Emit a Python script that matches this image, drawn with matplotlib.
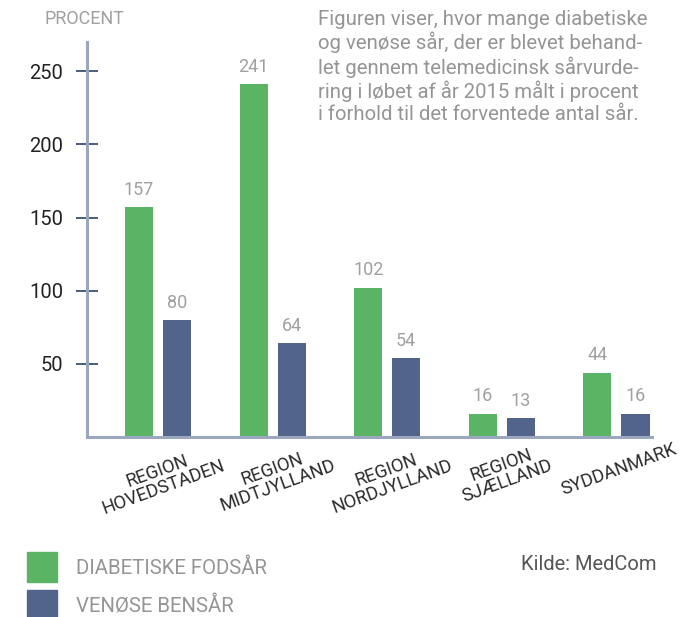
import matplotlib
matplotlib.use("Agg")
import matplotlib.pyplot as plt
import numpy as np
from matplotlib.patches import Rectangle

plt.rcParams['font.family'] = ['Roboto', 'DejaVu Sans']

regions = ["REGION\nHOVEDSTADEN", "REGION\nMIDTJYLLAND", "REGION\nNORDJYLLAND",
           "REGION\nSJÆLLAND", "SYDDANMARK"]
diabetiske = [157, 241, 102, 16, 44]
venose = [80, 64, 54, 13, 16]
series_names = ["DIABETISKE FODSÅR", "VENØSE BENSÅR"]
yticks = [50, 100, 150, 200, 250]

green = "#5ab464"
blue = "#52648c"
spine_c = "#9ba6bf"
tick_c = "#3d5170"
label_gray = "#a0a0a0"

fig = plt.figure(figsize=(6.95, 6.17), dpi=100)
ax = fig.add_axes([87/695, 1-437/617, (652-87)/695, (437-42)/617])

x = np.arange(len(regions))
w = 0.245
off = 0.166
b1 = ax.bar(x - off, diabetiske, w, color=green, zorder=2)
b2 = ax.bar(x + off, venose, w, color=blue, zorder=2)

for rects, vals in ((b1, diabetiske), (b2, venose)):
    for r, v in zip(rects, vals):
        ax.annotate(str(v), (r.get_x() + r.get_width()/2, r.get_height()),
                    xytext=(0, 6), textcoords="offset points", ha="center", va="bottom",
                    fontsize=13, color=label_gray)

ax.set_xlim(-0.62, 4.31)
ax.set_ylim(0, 270)
ax.set_yticks(yticks)
ax.set_yticklabels([str(t) for t in yticks], fontsize=14.5, color="#222222")
ax.tick_params(axis="y", direction="inout", length=16, width=1.3, color=tick_c, pad=9)
ax.set_xticks([])
for s in ("top", "right"):
    ax.spines[s].set_visible(False)
for s in ("left", "bottom"):
    ax.spines[s].set_color(spine_c)
    ax.spines[s].set_linewidth(2.2)

trans = ax.get_xaxis_transform()
for xi, lab in zip(x, regions):
    ax.text(xi + 0.02, -0.008, lab, transform=trans, ha="center", va="top", rotation=20,
            fontsize=13.2, color="#2a2a2a", linespacing=0.95)

fig.text(45/695, 1-19/617, "PROCENT", ha="left", va="center", fontsize=13,
         color=label_gray)

txt = ("Figuren viser, hvor mange diabetiske\nog venøse sår, der er blevet behand-\n"
       "let gennem telemedicinsk sårvurde-\nring i løbet af år 2015 målt i procent\n"
       "i forhold til det forventede antal sår.")
fig.text(318/695, 1-10/617, txt, ha="left", va="top", fontsize=14.7, color="#959595",
         linespacing=1.17)

for i, (name, c) in enumerate(zip(series_names, [green, blue])):
    y0 = 552 + i*38
    fig.patches.append(Rectangle((27/695, 1-(y0+30)/617), 30/695, 30/617,
                                 transform=fig.transFigure, color=c))
    fig.text(76/695, 1-(y0+16)/617, name, ha="left", va="center", fontsize=14.7,
             color="#959595")

fig.text(521/695, 1-564/617, "Kilde: MedCom", ha="left", va="center", fontsize=14.5,
         color="#555555")

fig.savefig("out.png", dpi=100)
